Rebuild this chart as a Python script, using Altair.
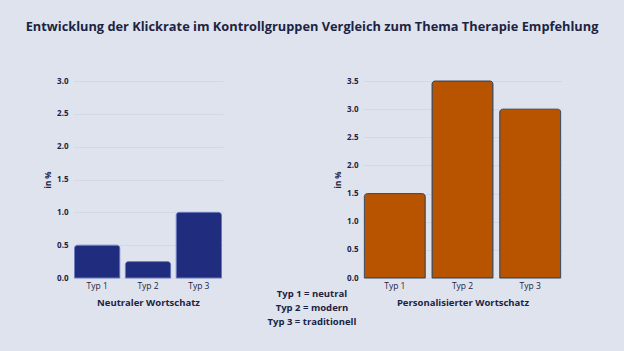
import altair as alt
import pandas as pd

categories = ["Typ 1", "Typ 2", "Typ 3"]
neutral_values = [0.5, 0.25, 1.0]
personal_values = [1.5, 3.5, 3.0]
legend_lines = ["Typ 1 = neutral", "Typ 2 = modern", "Typ 3 = traditionell"]
title_text = "Entwicklung der Klickrate im Kontrollgruppen Vergleich zum Thema Therapie Empfehlung"

BG = "#dfe3ed"
INK = "#1b2442"
FONT = "Open Sans"

df_left = pd.DataFrame({"typ": categories, "wert": neutral_values})
df_right = pd.DataFrame({"typ": categories, "wert": personal_values})
df_one = pd.DataFrame({"a": [0]})


def x_axis(title):
    return alt.Axis(title=title, labelAngle=0, ticks=False, domain=False,
                    labelFont=FONT, labelFontSize=8.5, labelColor=INK, labelPadding=3,
                    titleFont=FONT, titleFontSize=9.5, titleFontWeight="bold",
                    titleColor=INK, titlePadding=8)


def y_axis(vals):
    return alt.Axis(title="in %", values=vals, format=".1f", ticks=False, domain=False,
                    grid=True, gridColor="#d2d8e6", gridWidth=1,
                    labelFont=FONT, labelFontSize=8, labelFontWeight="bold",
                    labelColor=INK, labelPadding=5,
                    titleFont=FONT, titleFontSize=8, titleFontWeight="bold",
                    titleColor=INK, titlePadding=4)


W_L, W_R, H = 150, 199, 197

# invisible frame: only fixes the size of the whole picture
frame = alt.Chart(df_one).mark_rect(fill="transparent", fillOpacity=0, strokeOpacity=0).encode(
    x=alt.value(-73), x2=alt.value(624 - 73), y=alt.value(-81), y2=alt.value(351 - 81)
)

left_bars = alt.Chart(df_left).mark_bar(
    color="#202c7e", stroke="#5a6bb8", strokeWidth=0.8, cornerRadiusTopLeft=3, cornerRadiusTopRight=3
).encode(
    x=alt.X("typ:N", sort=categories, axis=x_axis("Neutraler Wortschatz"),
            scale=alt.Scale(paddingInner=0.11, paddingOuter=0.03)),
    y=alt.Y("wert:Q", axis=y_axis([0, 0.5, 1.0, 1.5, 2.0, 2.5, 3.0]),
            scale=alt.Scale(domain=[0, 3])),
)

title_mark = alt.Chart(df_one).mark_text(
    font=FONT, fontSize=12.8, fontWeight="bold", color=INK, align="center", baseline="middle"
).encode(text=alt.value(title_text), x=alt.value(312 - 73), y=alt.value(27 - 81))

legend_mark = alt.Chart(df_one).mark_text(
    font=FONT, fontSize=9.5, fontWeight="bold", color=INK, align="center", baseline="middle",
    lineHeight=14.2
).encode(text=alt.value(legend_lines), x=alt.value(312 - 73), y=alt.value(294 - 81))

left = alt.layer(frame, left_bars, title_mark, legend_mark).properties(width=W_L, height=H)

right = alt.Chart(df_right).mark_bar(
    color="#b85300", stroke="#3b4a5e", strokeWidth=1, cornerRadiusTopLeft=3, cornerRadiusTopRight=3
).encode(
    x=alt.X("typ:N", sort=categories, axis=x_axis("Personalisierter Wortschatz"),
            scale=alt.Scale(paddingInner=0.1, paddingOuter=0.02)),
    y=alt.Y("wert:Q", axis=y_axis([0, 0.5, 1.0, 1.5, 2.0, 2.5, 3.0, 3.5]),
            scale=alt.Scale(domain=[0, 3.5])),
).properties(width=W_R, height=H)

chart = alt.hconcat(left, right, spacing=140, bounds="flush").properties(
    padding=0, background=BG
).configure_view(stroke=None)

chart.save("out.html", embed_options={"renderer": "svg", "actions": False})
